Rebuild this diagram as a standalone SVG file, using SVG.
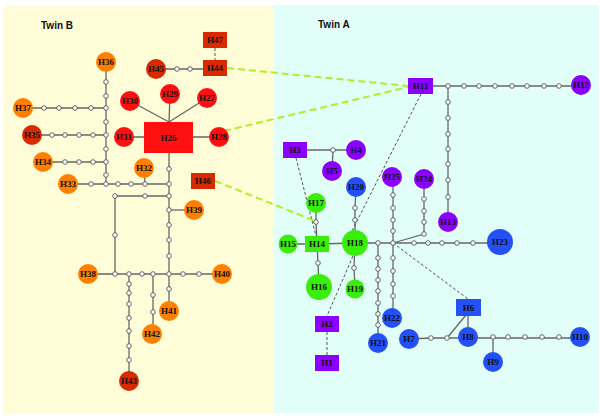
<svg xmlns="http://www.w3.org/2000/svg" width="600" height="418" viewBox="0 0 600 418">
<style>
.l{stroke:#666;stroke-width:1.3;fill:none}
.d{stroke:#444;stroke-width:0.9;fill:none;stroke-dasharray:3,2}
.g{stroke:#B2EE22;stroke-width:2;fill:none;stroke-dasharray:7,4}
.j{fill:#fff;stroke:#555;stroke-width:0.9}
.t{font-family:"Liberation Serif",serif;font-weight:bold;font-size:9px;fill:#111;text-anchor:middle}
.tw{font-family:"Liberation Sans",Arial,sans-serif;font-weight:bold;font-size:10px;fill:#111}
.or{fill:#FF8000}
.re{fill:#FF1010}
.dr{fill:#D82A00}
.pu{fill:#8C00FF}
.bl{fill:#2450F8}
.gr{fill:#38EE0A}
</style>
<rect x="3" y="5" width="272" height="408" fill="#FFFCD8"/>
<rect x="274" y="5" width="325" height="408" fill="#E1FEF8"/>
<text class="tw" x="41" y="29">Twin B</text>
<text class="tw" x="318" y="28">Twin A</text>
<g id="connectors">
<!-- left panel solid -->
<path class="l" d="M156,69H215"/>
<path class="l" d="M106,62V184"/>
<path class="l" d="M23,108H106"/>
<path class="l" d="M32,135H106"/>
<path class="l" d="M43,162H106"/>
<path class="l" d="M68,184H169"/>
<path class="l" d="M144,168L145,184"/>
<path class="l" d="M124,137H219"/>
<path class="l" d="M130,101L169,122L170,94M169,122L207,98"/>
<path class="l" d="M169,137V311"/>
<path class="l" d="M169,210H194"/>
<path class="l" d="M169,196H115V274"/>
<path class="l" d="M88,274H222"/>
<path class="l" d="M129,274V381"/>
<path class="l" d="M153,274V334"/>
<!-- right panel solid -->
<path class="l" d="M420,86H581"/>
<path class="l" d="M448,86V222"/>
<path class="l" d="M295,150H356"/>
<path class="l" d="M333,150L332,171"/>
<path class="l" d="M316,203V222L317,244"/>
<path class="l" d="M288,244L317,244L355,243"/>
<path class="l" d="M317,244L318,263L319,287"/>
<path class="l" d="M355,243V208L356,187"/>
<path class="l" d="M355,243L354,268L355,289"/>
<path class="l" d="M355,243H500"/>
<path class="l" d="M378,243V343"/>
<path class="l" d="M393,243V177"/>
<path class="l" d="M393,243V318"/>
<path class="l" d="M393,243L424,234V179"/>
<path class="l" d="M468,307V337"/>
<path class="l" d="M466,315L447,338"/>
<path class="l" d="M409,339L431,338H580"/>
<path class="l" d="M493,337V362"/>
<!-- black dashed -->
<path class="d" d="M215,48V60"/>
<path class="d" d="M296,158L316,236"/>
<path class="d" d="M421,94L352,231"/>
<path class="d" d="M353,256L327,316"/>
<path class="d" d="M327,332V355"/>
<path class="d" d="M393,243L468,299"/>
<!-- green dashed -->
<path class="g" d="M227,68L408,86"/>
<path class="g" d="M224,131L408,87"/>
<path class="g" d="M215,181L315,221"/>
<!-- junctions -->
<g id="junctions">
<circle class="j" cx="177" cy="69" r="2.3"/><circle class="j" cx="190" cy="69" r="2.3"/>
<circle class="j" cx="106" cy="82" r="2.3"/><circle class="j" cx="106" cy="96" r="2.3"/><circle class="j" cx="106" cy="108" r="2.3"/><circle class="j" cx="106" cy="122" r="2.3"/><circle class="j" cx="106" cy="135" r="2.3"/><circle class="j" cx="106" cy="149" r="2.3"/><circle class="j" cx="106" cy="162" r="2.3"/><circle class="j" cx="106" cy="175" r="2.3"/><circle class="j" cx="106" cy="184" r="2.3"/>
<circle class="j" cx="44" cy="108" r="2.3"/><circle class="j" cx="59" cy="108" r="2.3"/><circle class="j" cx="75" cy="108" r="2.3"/><circle class="j" cx="91" cy="108" r="2.3"/>
<circle class="j" cx="52" cy="135" r="2.3"/><circle class="j" cx="65" cy="135" r="2.3"/><circle class="j" cx="79" cy="135" r="2.3"/><circle class="j" cx="93" cy="135" r="2.3"/>
<circle class="j" cx="65" cy="162" r="2.3"/><circle class="j" cx="79" cy="162" r="2.3"/><circle class="j" cx="93" cy="162" r="2.3"/>
<circle class="j" cx="91" cy="184" r="2.3"/><circle class="j" cx="118" cy="184" r="2.3"/><circle class="j" cx="131" cy="184" r="2.3"/><circle class="j" cx="145" cy="184" r="2.3"/><circle class="j" cx="169" cy="184" r="2.3"/>
<circle class="j" cx="169" cy="169" r="2.3"/><circle class="j" cx="169" cy="196" r="2.3"/><circle class="j" cx="169" cy="210" r="2.3"/><circle class="j" cx="169" cy="225" r="2.3"/><circle class="j" cx="169" cy="240" r="2.3"/><circle class="j" cx="169" cy="256" r="2.3"/><circle class="j" cx="169" cy="274" r="2.3"/><circle class="j" cx="169" cy="289" r="2.3"/>
<circle class="j" cx="115" cy="196" r="2.3"/><circle class="j" cx="145" cy="196" r="2.3"/><circle class="j" cx="115" cy="235" r="2.3"/>
<circle class="j" cx="115" cy="274" r="2.3"/><circle class="j" cx="129" cy="274" r="2.3"/><circle class="j" cx="142" cy="274" r="2.3"/><circle class="j" cx="153" cy="274" r="2.3"/><circle class="j" cx="183" cy="274" r="2.3"/><circle class="j" cx="199" cy="274" r="2.3"/>
<circle class="j" cx="129" cy="284" r="2.3"/><circle class="j" cx="129" cy="293" r="2.3"/><circle class="j" cx="129" cy="304" r="2.3"/><circle class="j" cx="129" cy="318" r="2.3"/><circle class="j" cx="129" cy="331" r="2.3"/><circle class="j" cx="129" cy="346" r="2.3"/><circle class="j" cx="129" cy="360" r="2.3"/>
<circle class="j" cx="153" cy="295" r="2.3"/><circle class="j" cx="153" cy="312" r="2.3"/>
<circle class="j" cx="448" cy="86" r="2.3"/><circle class="j" cx="464" cy="86" r="2.3"/><circle class="j" cx="479" cy="86" r="2.3"/><circle class="j" cx="495" cy="86" r="2.3"/><circle class="j" cx="512" cy="86" r="2.3"/><circle class="j" cx="527" cy="86" r="2.3"/><circle class="j" cx="544" cy="86" r="2.3"/><circle class="j" cx="559" cy="86" r="2.3"/>
<circle class="j" cx="448" cy="102" r="2.3"/><circle class="j" cx="448" cy="118" r="2.3"/><circle class="j" cx="448" cy="134" r="2.3"/><circle class="j" cx="448" cy="149" r="2.3"/><circle class="j" cx="448" cy="164" r="2.3"/><circle class="j" cx="448" cy="180" r="2.3"/><circle class="j" cx="448" cy="197" r="2.3"/>
<circle class="j" cx="333" cy="150" r="2.3"/>
<circle class="j" cx="316" cy="222" r="2.3"/><circle class="j" cx="318" cy="263" r="2.3"/>
<circle class="j" cx="355" cy="208" r="2.3"/><circle class="j" cx="355" cy="220" r="2.3"/><circle class="j" cx="354" cy="268" r="2.3"/>
<circle class="j" cx="378" cy="243" r="2.3"/><circle class="j" cx="393" cy="243" r="2.3"/>
<circle class="j" cx="378" cy="258" r="2.3"/><circle class="j" cx="378" cy="269" r="2.3"/><circle class="j" cx="378" cy="280" r="2.3"/><circle class="j" cx="378" cy="291" r="2.3"/><circle class="j" cx="378" cy="303" r="2.3"/><circle class="j" cx="378" cy="314" r="2.3"/><circle class="j" cx="378" cy="325" r="2.3"/>
<circle class="j" cx="393" cy="231" r="2.3"/><circle class="j" cx="393" cy="220" r="2.3"/><circle class="j" cx="393" cy="208" r="2.3"/><circle class="j" cx="393" cy="195" r="2.3"/>
<circle class="j" cx="393" cy="258" r="2.3"/><circle class="j" cx="393" cy="271" r="2.3"/><circle class="j" cx="393" cy="284" r="2.3"/><circle class="j" cx="393" cy="296" r="2.3"/>
<circle class="j" cx="424" cy="234" r="2.3"/><circle class="j" cx="424" cy="222" r="2.3"/><circle class="j" cx="424" cy="211" r="2.3"/><circle class="j" cx="424" cy="199" r="2.3"/>
<circle class="j" cx="414" cy="243" r="2.3"/><circle class="j" cx="428" cy="243" r="2.3"/><circle class="j" cx="442" cy="243" r="2.3"/><circle class="j" cx="457" cy="243" r="2.3"/><circle class="j" cx="473" cy="243" r="2.3"/>
<circle class="j" cx="431" cy="338" r="2.3"/><circle class="j" cx="447" cy="338" r="2.3"/>
<circle class="j" cx="493" cy="337" r="2.3"/><circle class="j" cx="508" cy="337" r="2.3"/><circle class="j" cx="525" cy="337" r="2.3"/><circle class="j" cx="542" cy="337" r="2.3"/><circle class="j" cx="559" cy="337" r="2.3"/>
</g>
</g>
<!-- Twin B nodes -->
<g id="H47"><rect class="dr" x="203" y="32" width="24" height="16"/><text class="t" x="215" y="43">H47</text></g>
<g id="H44"><rect class="dr" x="203" y="60" width="24" height="16"/><text class="t" x="215" y="71">H44</text></g>
<g id="H45"><circle class="dr" cx="156" cy="69" r="10"/><text class="t" x="156" y="72">H45</text></g>
<g id="H36"><circle class="or" cx="106" cy="62" r="10"/><text class="t" x="106" y="65">H36</text></g>
<g id="H37"><circle class="or" cx="23" cy="108" r="10"/><text class="t" x="23" y="111">H37</text></g>
<g id="H35"><circle class="dr" cx="32" cy="135" r="10"/><text class="t" x="32" y="138">H35</text></g>
<g id="H34"><circle class="or" cx="43" cy="162" r="10"/><text class="t" x="43" y="165">H34</text></g>
<g id="H33"><circle class="or" cx="68" cy="184" r="10"/><text class="t" x="68" y="187">H33</text></g>
<g id="H32"><circle class="or" cx="144" cy="168" r="10"/><text class="t" x="144" y="171">H32</text></g>
<g id="H26"><rect class="re" x="144" y="122" width="49" height="31"/><text class="t" x="168.5" y="140.5">H26</text></g>
<g id="H31"><circle class="re" cx="124" cy="137" r="10"/><text class="t" x="124" y="140">H31</text></g>
<g id="H28"><circle class="re" cx="219" cy="137" r="10"/><text class="t" x="219" y="140">H28</text></g>
<g id="H30"><circle class="re" cx="130" cy="101" r="10"/><text class="t" x="130" y="104">H30</text></g>
<g id="H29"><circle class="re" cx="170" cy="94" r="10"/><text class="t" x="170" y="97">H29</text></g>
<g id="H27"><circle class="re" cx="207" cy="98" r="10"/><text class="t" x="207" y="101">H27</text></g>
<g id="H46"><rect class="dr" x="191" y="173" width="24" height="16"/><text class="t" x="203" y="184">H46</text></g>
<g id="H39"><circle class="or" cx="194" cy="210" r="10"/><text class="t" x="194" y="213">H39</text></g>
<g id="H38"><circle class="or" cx="88" cy="274" r="10"/><text class="t" x="88" y="277">H38</text></g>
<g id="H40"><circle class="or" cx="222" cy="274" r="10"/><text class="t" x="222" y="277">H40</text></g>
<g id="H41"><circle class="or" cx="169" cy="311" r="10"/><text class="t" x="169" y="314">H41</text></g>
<g id="H42"><circle class="or" cx="152" cy="334" r="10"/><text class="t" x="152" y="337">H42</text></g>
<g id="H43"><circle class="dr" cx="129" cy="381" r="10"/><text class="t" x="129" y="384">H43</text></g>
<!-- Twin A nodes -->
<g id="H11"><rect class="pu" x="408" y="78" width="25" height="16"/><text class="t" x="420.5" y="89">H11</text></g>
<g id="H12"><circle class="pu" cx="581" cy="85" r="10"/><text class="t" x="581" y="88">H12</text></g>
<g id="H3"><rect class="pu" x="283" y="142" width="24" height="16"/><text class="t" x="295" y="153">H3</text></g>
<g id="H4"><circle class="pu" cx="356" cy="150" r="10"/><text class="t" x="356" y="153">H4</text></g>
<g id="H5"><circle class="pu" cx="332" cy="171" r="10"/><text class="t" x="332" y="174">H5</text></g>
<g id="H20"><circle class="bl" cx="356" cy="187" r="10"/><text class="t" x="356" y="190">H20</text></g>
<g id="H25"><circle class="pu" cx="392" cy="177" r="10"/><text class="t" x="392" y="180">H25</text></g>
<g id="H24"><circle class="pu" cx="424" cy="179" r="10"/><text class="t" x="424" y="182">H24</text></g>
<g id="H13"><circle class="pu" cx="448" cy="222" r="10"/><text class="t" x="448" y="225">H13</text></g>
<g id="H17"><circle class="gr" cx="316" cy="203" r="10"/><text class="t" x="316" y="206">H17</text></g>
<g id="H14"><rect class="gr" x="305" y="236" width="24" height="16"/><text class="t" x="317" y="247">H14</text></g>
<g id="H15"><circle class="gr" cx="288" cy="244" r="9.5"/><text class="t" x="288" y="247">H15</text></g>
<g id="H18"><circle class="gr" cx="355" cy="243" r="13"/><text class="t" x="355" y="246">H18</text></g>
<g id="H16"><circle class="gr" cx="319" cy="287" r="13"/><text class="t" x="319" y="290">H16</text></g>
<g id="H19"><circle class="gr" cx="355" cy="289" r="9.5"/><text class="t" x="355" y="292">H19</text></g>
<g id="H23"><circle class="bl" cx="500" cy="242" r="13"/><text class="t" x="500" y="245">H23</text></g>
<g id="H22"><circle class="bl" cx="392" cy="318" r="10"/><text class="t" x="392" y="321">H22</text></g>
<g id="H21"><circle class="bl" cx="378" cy="343" r="10"/><text class="t" x="378" y="346">H21</text></g>
<g id="H6"><rect class="bl" x="456" y="299" width="25" height="17"/><text class="t" x="468.5" y="310.5">H6</text></g>
<g id="H7"><circle class="bl" cx="409" cy="339" r="10"/><text class="t" x="409" y="342">H7</text></g>
<g id="H8"><circle class="bl" cx="468" cy="337" r="10"/><text class="t" x="468" y="340">H8</text></g>
<g id="H9"><circle class="bl" cx="493" cy="362" r="10"/><text class="t" x="493" y="365">H9</text></g>
<g id="H10"><circle class="bl" cx="580" cy="337" r="10"/><text class="t" x="580" y="340">H10</text></g>
<g id="H2"><rect class="pu" x="315" y="316" width="24" height="16"/><text class="t" x="327" y="327">H2</text></g>
<g id="H1"><rect class="pu" x="315" y="355" width="24" height="16"/><text class="t" x="327" y="366">H1</text></g>
</svg>
